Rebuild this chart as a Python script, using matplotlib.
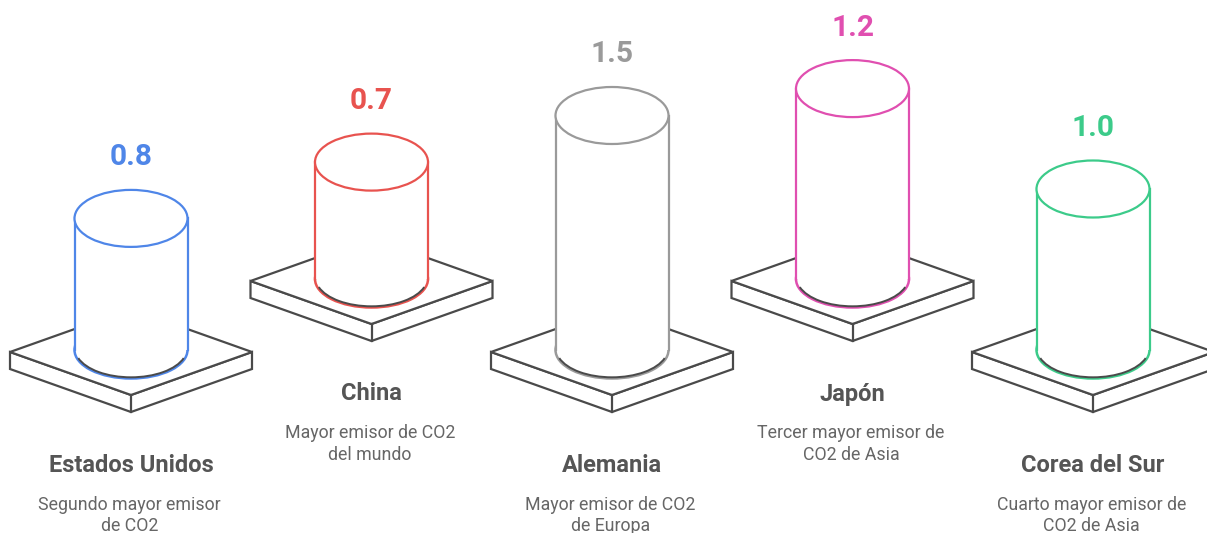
import matplotlib
matplotlib.use('Agg')
import matplotlib.pyplot as plt
from matplotlib.patches import Ellipse, Polygon, Rectangle, Arc

plt.rcParams['font.family'] = ['Roboto', 'DejaVu Sans']

paises = ['Estados Unidos', 'China', 'Alemania', 'Japón', 'Corea del Sur']
valores = [0.8, 0.7, 1.5, 1.2, 1.0]
descripciones = [['Segundo mayor emisor', 'de CO2'],
                 ['Mayor emisor de CO2', 'del mundo'],
                 ['Mayor emisor de CO2', 'de Europa'],
                 ['Tercer mayor emisor de', 'CO2 de Asia'],
                 ['Cuarto mayor emisor de', 'CO2 de Asia']]
colores = ['#4F86E8', '#E8534F', '#9A9A9A', '#E04FB0', '#3CCB8A']
elevado = [False, True, False, True, False]

GRIS = '#4A4A4A'
PX_POR_UNIDAD = 147
PX_BASE = 14
RX, RY = 56.5, 28.5

fig = plt.figure(figsize=(12.07, 5.33), dpi=100)
ax = fig.add_axes([0, 0, 1, 1])
ax.set_xlim(0, 1207)
ax.set_ylim(533, 0)
ax.axis('off')

for i, pais in enumerate(paises):
    x = 131 + i * 240.5
    dy = -71 if elevado[i] else 0
    c = colores[i]

    # plataforma
    yc = 352 + dy
    top = [(x - 121, yc), (x, yc - 43), (x + 121, yc), (x, yc + 43)]
    frente = [(x - 121, yc), (x, yc + 43), (x + 121, yc),
              (x + 121, yc + 17), (x, yc + 60), (x - 121, yc + 17)]
    ax.add_patch(Polygon(frente, closed=True, fc='white', ec=GRIS, lw=1.6, zorder=1, joinstyle='miter'))
    ax.add_patch(Polygon(top, closed=True, fc='white', ec=GRIS, lw=1.6, zorder=1, joinstyle='miter'))
    ax.plot([x, x], [yc + 43, yc + 60], color=GRIS, lw=1.6, zorder=1)

    # cilindro
    yb = 350 + dy
    yt = yb - (PX_POR_UNIDAD * valores[i] + PX_BASE)
    ax.add_patch(Ellipse((x, yb), 2 * RX, 2 * RY, fc='white', ec=c, lw=1.8, zorder=2))
    ax.add_patch(Rectangle((x - RX, yt), 2 * RX, yb - yt, fc='white', ec='none', zorder=3))
    ax.plot([x - RX, x - RX], [yt, yb], color=c, lw=1.6, zorder=4)
    ax.plot([x + RX, x + RX], [yt, yb], color=c, lw=1.6, zorder=4)
    ax.add_patch(Arc((x, yb - 1.2), 2 * RX - 1.5, 2 * RY, theta1=10, theta2=170, ec=GRIS, lw=1.4, zorder=5))
    ax.add_patch(Ellipse((x, yt), 2 * RX, 2 * RY, fc='white', ec=c, lw=1.6, zorder=5))

    # textos
    ax.text(x, yt - 61, f'{valores[i]:.1f}', color=c, fontsize=21.5, fontweight='bold',
            ha='center', va='center', zorder=6)
    ax.text(x, 465 + dy, pais, color='#555555', fontsize=17, fontweight='bold',
            ha='center', va='center')
    ax.text(x - 1.5, 509.5 + dy, descripciones[i][0], color='#666666', fontsize=12.8,
            ha='center', va='baseline')
    ax.text(x - 1.5, 531 + dy, descripciones[i][1], color='#666666', fontsize=12.8,
            ha='center', va='baseline')

fig.savefig('out.png', dpi=100)
